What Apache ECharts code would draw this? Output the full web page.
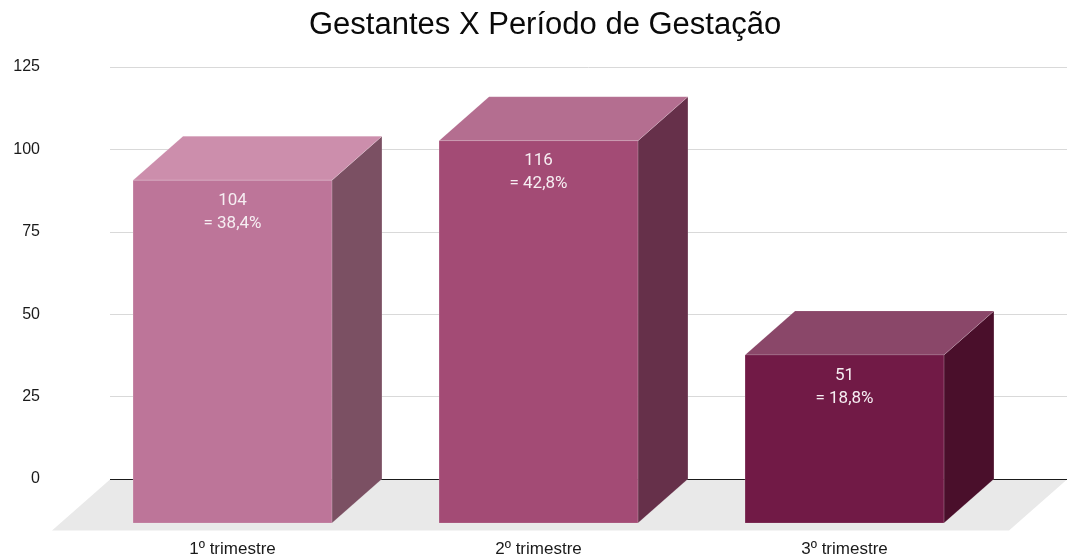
<!DOCTYPE html>
<html><head><meta charset="utf-8">
<script src="https://cdn.jsdelivr.net/npm/echarts@6/dist/echarts.min.js"></script>
<style>html,body{margin:0;padding:0;background:#fff}#c{width:1067px;height:558px}</style>
</head><body><div id="c"></div>
<script>
const title = 'Gestantes X Período de Gestação';
const categories = ['1º trimestre', '2º trimestre', '3º trimestre'];
const values = [104, 116, 51];
const percentLabels = ['= 38,4%', '= 42,8%', '= 18,8%'];
const yTicks = [0, 25, 50, 75, 100, 125];
const frontColors = ['#bd7599', '#a34b75', '#711a46'];
const topColors = ['#cc8eac', '#b46e90', '#8a4769'];
const sideColors = ['#7b5063', '#66304a', '#4a0f2b'];

const DX = 50, DY = 44;
const chart = echarts.init(document.getElementById('c'));
const yMax = yTicks[yTicks.length - 1];
const yStep = yTicks[1] - yTicks[0];

chart.setOption({
  animation: false,
  title: {text: title, left: 304, top: 5,
    textStyle: {fontFamily: 'Liberation Sans', fontSize: 31, fontWeight: 'normal', color: '#0a0a0a'}},
  grid: [
    {left: 110, right: 0, top: 67, bottom: 79},
    {left: 79.5, right: 69.5, top: 67, bottom: 79}
  ],
  xAxis: [
    {gridIndex: 0, type: 'category', data: categories, show: false},
    {gridIndex: 1, type: 'category', data: categories,
      axisLine: {show: false}, axisTick: {show: false}, splitLine: {show: false},
      axisLabel: {margin: 62, fontFamily: 'Liberation Sans', fontSize: 17, color: '#1a1a1a'}}
  ],
  yAxis: [
    {gridIndex: 0, type: 'value', min: 0, max: yMax, interval: yStep,
      axisLine: {show: false}, axisTick: {show: false},
      axisLabel: {margin: 70, fontFamily: 'Liberation Sans', fontSize: 16, color: '#1a1a1a'},
      splitLine: {lineStyle: {color: '#d9d9d9', width: 1}}},
    {gridIndex: 1, type: 'value', min: 0, max: yMax, interval: yStep, show: false}
  ],
  series: [
    {
      type: 'custom', xAxisIndex: 0, yAxisIndex: 0, z: 1,
      data: [0],
      renderItem: function (params, api) {
        const cs = params.coordSys;
        const y0 = Math.round(api.coord([0, 0])[1]) + 0.5;
        const xl = cs.x, xr = cs.x + cs.width;
        return {type: 'group', children: [
          {type: 'polygon', shape: {points: [[xl, y0], [xr, y0], [xr - 58, y0 + 51], [xl - 58, y0 + 51]]},
            style: {fill: '#e9e9e9'}},
          {type: 'line', shape: {x1: xl, y1: y0, x2: xr, y2: y0}, style: {stroke: '#1a1a1a', lineWidth: 1}}
        ]};
      }
    },
    {
      type: 'custom', xAxisIndex: 1, yAxisIndex: 1, z: 3,
      data: values.map((v, i) => [i, v]),
      renderItem: function (params, api) {
        const i = params.dataIndex;
        const c = api.coord([api.value(0), api.value(1)]);
        const b = api.coord([api.value(0), 0]);
        const w = api.size([1, 0])[0] * 0.65;
        const x0 = c[0] - w / 2, x1 = c[0] + w / 2;
        const top = c[1] + DY, bot = b[1] + DY;
        const edge = 'rgba(255,255,255,0.25)';
        return {type: 'group', children: [
          {type: 'polygon', shape: {points: [[x1, top], [x1 + DX, top - DY], [x1 + DX, bot - DY], [x1, bot]]},
            style: {fill: sideColors[i], stroke: edge, lineWidth: 0.6}},
          {type: 'polygon', shape: {points: [[x0, top], [x1, top], [x1 + DX, top - DY], [x0 + DX, top - DY]]},
            style: {fill: topColors[i], stroke: edge, lineWidth: 0.6}},
          {type: 'rect', shape: {x: x0, y: top, width: w, height: bot - top},
            style: {fill: frontColors[i], stroke: edge, lineWidth: 0.6}},
          {type: 'text', style: {text: String(values[i]) + '\n' + percentLabels[i],
            x: c[0], y: top + 9, align: 'center', verticalAlign: 'top',
            fontFamily: 'Roboto', fontSize: 17, lineHeight: 23, fill: '#f6eef2'}}
        ]};
      }
    }
  ]
});
</script>
</body></html>
